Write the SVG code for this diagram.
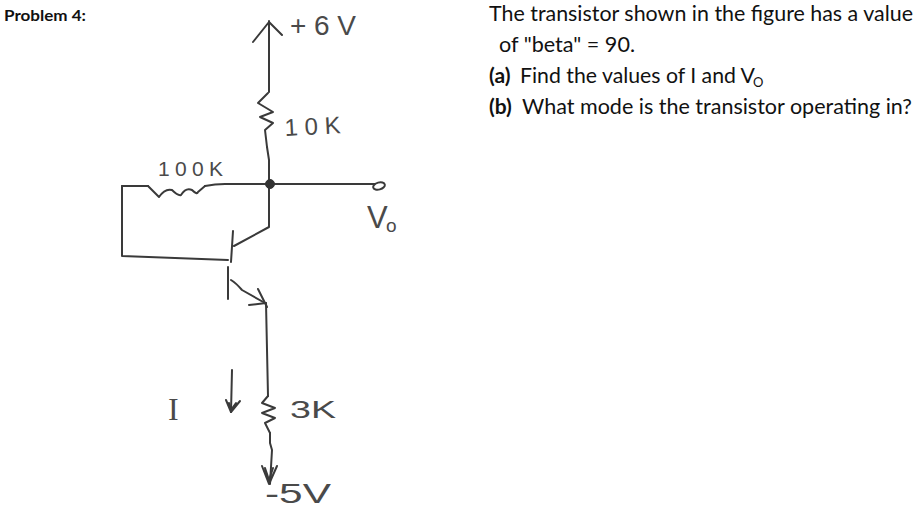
<svg xmlns="http://www.w3.org/2000/svg" width="917" height="510" viewBox="0 0 917 510">
<style>
.w{fill:none;stroke:#3a3a3a;stroke-width:2;stroke-linecap:round;stroke-linejoin:round}
.h{font-family:"Liberation Sans",Arial,sans-serif;fill:#4a4a4a}
.t{font-family:Lato,"Liberation Sans",sans-serif;font-size:21px;fill:#111}
</style>
<rect width="917" height="510" fill="#fff"/>
<g id="connectors">
<path class="w" d="M269 21V92"/>
<path class="w" d="M253 42L269 22L282 35"/>
<path class="w" d="M267 147L269 160V227L234 246"/>
<path class="w" d="M122 186H148M205 186Q215 184 225 184H376"/>
<path class="w" d="M122 186V256L228 260"/>
<path class="w" d="M233 231L231 262M228 267V299"/>
<path class="w" d="M231 280Q236 283 242 290L265 303"/>
<path class="w" d="M258 289L267 307M249 305L266 303"/>
<path class="w" d="M266 303L268 396"/>
<path class="w" d="M270 433V443L272 450L270 484"/>
<path class="w" d="M262 466L269 484L277 466M265 468L269 480L273 468"/>
<path class="w" d="M232 370L231 412"/>
<path class="w" d="M226 400L231 412L240 401M229 403L231 410L236 403"/>
</g>
<g id="resistor-10k"><path class="w" d="M268 93L258 103L273 112L260 117L273 123L265 130L267 147"/><text class="h" transform="rotate(-3 285 135)" x="285" y="136" font-size="24" textLength="56" lengthAdjust="spacing">10K</text></g>
<g id="resistor-100k"><path class="w" d="M148 186Q154 192 159 197Q165 188 172 190Q178 196 181 195Q186 187 192 190Q197 195 198 192L205 186"/><text class="h" x="158" y="176" font-size="21" textLength="65" lengthAdjust="spacing">100K</text></g>
<g id="resistor-3k"><path class="w" d="M268 396L262 403L275 408L262 413L275 418L265 423L270 433"/><text class="h" x="290" y="418" font-size="24" textLength="46" lengthAdjust="spacingAndGlyphs">3K</text></g>
<g id="node-junction"><ellipse cx="270" cy="184" rx="4.5" ry="4.5" fill="#333" stroke="#333"/></g>
<g id="node-output"><ellipse cx="379" cy="186" rx="6" ry="3.5" transform="rotate(-15 379 186)" fill="#fff" stroke="#3a3a3a" stroke-width="2"/><text class="h" x="367" y="228" font-size="31">V</text><text class="h" x="386" y="232" font-size="19">o</text></g>
<g id="label-6v"><text class="h" x="290" y="35" font-size="28" textLength="66" lengthAdjust="spacing">+6V</text></g>
<g id="label-i"><text x="168" y="420" font-family="Liberation Serif,serif" font-size="32" fill="#4a4a4a">I</text></g>
<g id="label-5v"><text class="h" x="265" y="503" font-size="27" textLength="66" lengthAdjust="spacingAndGlyphs">-5V</text></g>
<g id="problem-text">
<text x="4" y="21" font-family="Lato,'Liberation Sans',sans-serif" font-size="15" font-weight="700" fill="#111" textLength="82" lengthAdjust="spacingAndGlyphs">Problem 4:</text>
<text class="t" x="489" y="21" textLength="424" lengthAdjust="spacingAndGlyphs">The transistor shown in the figure has a value</text>
<text class="t" x="499" y="52" textLength="136" lengthAdjust="spacingAndGlyphs">of "beta" = 90.</text>
<text class="t" font-weight="700" x="489" y="83">(a)</text>
<text class="t" x="520" y="83" textLength="235" lengthAdjust="spacingAndGlyphs">Find the values of I and V</text>
<text class="t" x="753" y="87" style="font-size:13px">O</text>
<text class="t" font-weight="700" x="489" y="114">(b)</text>
<text class="t" x="522" y="114" textLength="390" lengthAdjust="spacingAndGlyphs">What mode is the transistor operating in?</text>
</g>
</svg>
